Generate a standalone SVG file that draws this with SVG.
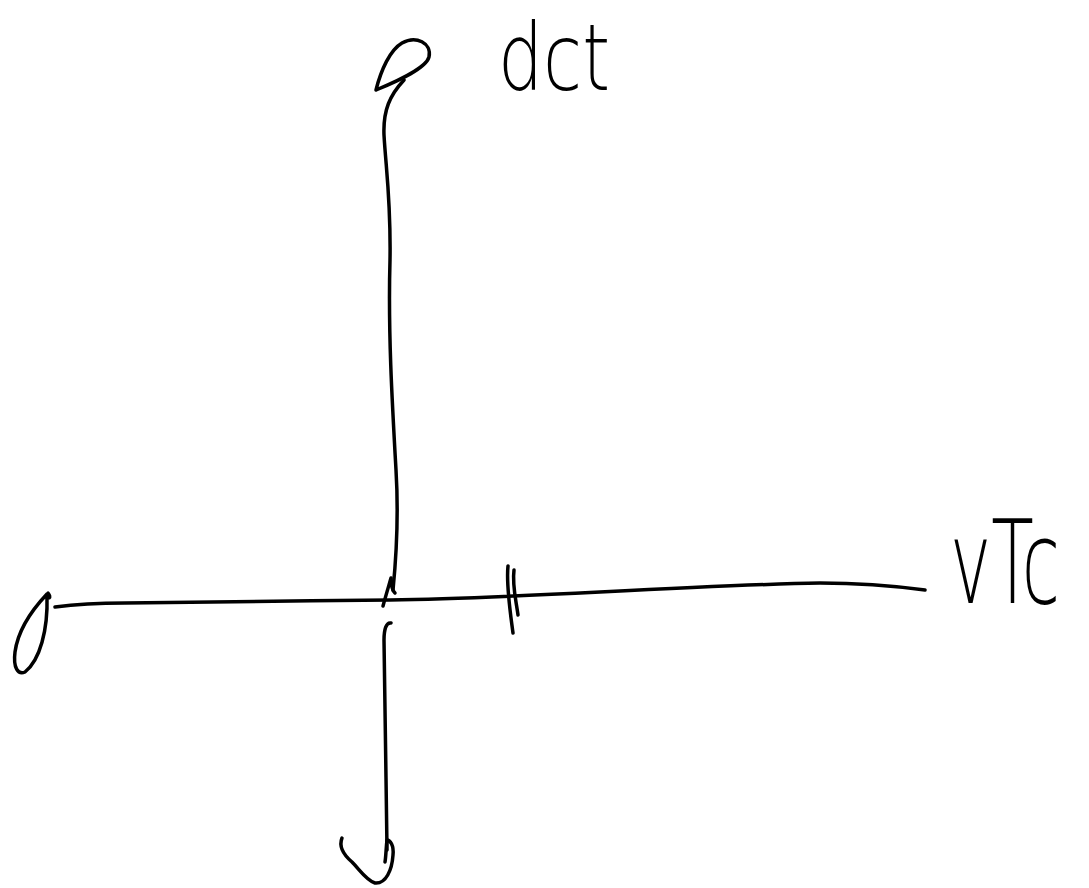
<svg xmlns="http://www.w3.org/2000/svg" width="1089" height="888" viewBox="0 0 1089 888">
<style>
.s{fill:none;stroke:#000;stroke-width:3.5;stroke-linecap:round;stroke-linejoin:round}
.t{font-family:"DejaVu Sans","Liberation Sans",sans-serif;font-weight:200;fill:#000}
</style>
<rect width="1089" height="888" fill="#fff"/>
<g id="strokes">
<path class="s" d="M376,90 C381,70 390,50 402,43 C416,35 432,43 429,57 C426,68 400,80 376,90"/>
<path class="s" d="M404,80 C390,95 383,110 384,135 C386,170 391,200 390,260 C388,330 392,400 396,470 C399,520 396,560 393,590"/>
<path class="s" d="M383,606 C386,595 389,585 391,578 C391,585 392,590 395,593"/>
<path class="s" d="M55,607 C70,605 90,603 125,603 C200,602 300,601 390,600 C460,599 520,596 600,592 C680,588 760,584 820,583 C860,583 895,586 925,590"/>
<path class="s" d="M48,593 C52,598 48,600 47,594 C30,612 18,630 15,652 C13,668 18,675 25,672 C40,660 48,630 47,596"/>
<path class="s" d="M508,566 C506,585 510,610 513,633"/>
<path class="s" d="M514,570 C512,585 516,600 518,615"/>
<path class="s" d="M391,623 C386,622 384,630 384,640 C385,700 386,780 387,850"/>
<path class="s" d="M342,838 C338,848 345,856 352,862 C360,870 366,880 375,883 C386,884 392,870 393,855 C394,845 390,840 387,840 C386,848 386,856 385,862"/>
</g>
<g id="labels">
<text class="t" x="498" y="90" font-size="92" textLength="112" lengthAdjust="spacingAndGlyphs">dct</text>
<text class="t" transform="translate(950,603) scale(0.6,1)" x="0" y="0" font-size="116">vTc</text>
</g>
</svg>
